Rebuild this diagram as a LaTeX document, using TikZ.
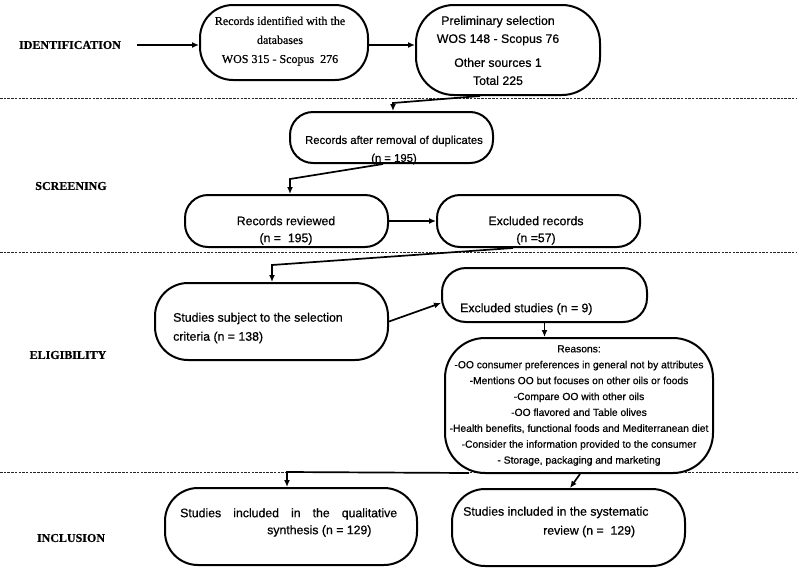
\documentclass[tikz,border=0pt]{standalone}
\usepackage{fontspec}
\setmainfont{Liberation Serif}[FakeBold=0.6]
\setsansfont{Liberation Sans}[FakeBold=0.6]
\usetikzlibrary{arrows.meta}
\begin{document}
\begin{tikzpicture}[x=1pt,y=-1pt,
  box/.style={draw, line width=2pt, fill=white, inner sep=0pt},
  txt/.style={font=\sffamily\fontsize{12.3}{18}\selectfont, inner sep=0pt, align=center},
  lab/.style={font=\rmfamily\bfseries\fontsize{12}{14}\selectfont, inner sep=0pt},
  arr/.style={line width=1.7pt, -{Latex[length=7pt,width=6pt]}},
  sep/.style={dash pattern=on 2.5pt off 1.2pt, line width=0.9pt, black!85}]
\useasboundingbox (0,0) rectangle (800,568);

% separators
\draw[sep] (0,98) -- (796,98);
\draw[sep] (0,252) -- (796,252);
\draw[sep] (0,472) -- (798,472);

% stage labels
\node[lab] (l1) at (70,45) {IDENTIFICATION};
\node[lab] (l2) at (71,186) {SCREENING};
\node[lab] (l3) at (68,355) {ELIGIBILITY};
\node[lab] (l4) at (71,538) {INCLUSION};

% boxes
\node[box, rounded corners=33, minimum width=168, minimum height=75] (b1) at (284,42.5) {};
\node[box, rounded corners=38, minimum width=184, minimum height=90] (b2) at (508,50) {};
\node[box, rounded corners=23, minimum width=203, minimum height=51] (b3) at (391.5,137.5) {};
\node[box, rounded corners=23, minimum width=203, minimum height=52] (b4) at (286.5,221) {};
\node[box, rounded corners=23, minimum width=203, minimum height=52] (b5) at (538.5,221) {};
\node[box, rounded corners=33, minimum width=233, minimum height=77] (b6) at (271.5,321.5) {};
\node[box, rounded corners=24, minimum width=205, minimum height=54] (b7) at (544.5,295) {};
\node[box, rounded corners=40, minimum width=268, minimum height=135] (b8) at (579,405.5) {};
\node[box, rounded corners=33, minimum width=252, minimum height=77] (b9) at (291,526.5) {};
\node[box, rounded corners=33, minimum width=233, minimum height=77] (b10) at (568.5,527.5) {};

% texts
\node[font=\rmfamily\fontsize{12}{19}\selectfont, inner sep=0pt, align=center] (t1) at (280,41)
  {Records identified with the\\databases\\WOS 315 - Scopus\ \ 276};
\node[txt] (t2) at (498,50.5)
  {Preliminary selection\\WOS 148 - Scopus 76\\[6pt]Other sources 1\\Total 225};
\node[txt, font=\sffamily\fontsize{11.3}{18}\selectfont] (t3) at (394,150)
  {Records after removal of duplicates\\(n = 195)};
\node[txt, font=\sffamily\fontsize{12.3}{17}\selectfont] (t4) at (286,230.5)
  {Records reviewed\\(n =\ \ 195)};
\node[txt, font=\sffamily\fontsize{12.3}{17}\selectfont] (t5) at (536,230.5)
  {Excluded records\\(n =57)};
\node[txt, font=\sffamily\fontsize{12.3}{19}\selectfont, align=left, anchor=west] (t6) at (173,328)
  {Studies subject to the selection\\criteria (n = 138)};
\node[txt, anchor=west] (t7) at (460,309) {Excluded studies (n = 9)};
\node[txt, font=\sffamily\fontsize{10.3}{15.9}\selectfont] (t8) at (579,405.5)
  {Reasons:\\-OO consumer preferences in general not by attributes\\
   -Mentions OO but focuses on other oils or foods\\-Compare OO with other oils\\
   -OO flavored and Table olives\\-Health benefits, functional foods and Mediterranean diet\\
   -Consider the information provided to the consumer\\- Storage, packaging and marketing};
\node[txt, font=\sffamily\fontsize{12.3}{17}\selectfont, align=left, anchor=west] (t9) at (180,522.5)
  {\hbox to 217pt{Studies\hfill included\hfill in\hfill the\hfill qualitative}\\\hspace*{87pt}synthesis (n = 129)};
\node[txt, font=\sffamily\fontsize{12.3}{19}\selectfont, align=left, anchor=west] (t10) at (463,522)
  {Studies included in the systematic\\\hspace*{80pt}review (n =\ \ 129)};

% connectors
\draw[arr] ([xshift=16]l1.east) -- (l1.east -| b1.west);
\draw[arr] ([yshift=-2.5]b1.east) -- ([yshift=-2.5]b1.east -| b2.west);
\coordinate (k1) at (393,103);
\draw[arr] ([xshift=-28]b2.south) -- (k1) -- (k1 |- b3.north);
\coordinate (k2) at (290,179);
\draw[arr] ([xshift=-8.5]b3.south) -- (k2) -- (k2 |- b4.north);
\draw[arr] (b4.east) -- (b5.west);
\coordinate (k3) at (272,265);
\draw[arr] ([xshift=-25.5]b5.south) -- (k3) -- (k3 |- b6.north);
\draw[arr] (b6.east) -- ([yshift=-8]b7.west);
\draw[arr] (b7.south) -- (b7.south |- b8.north);
\coordinate (k4) at (287,472);
\draw[arr] ([xshift=-110,yshift=1]b8.south) -- (k4) -- (k4 |- b9.north);
\draw[arr] ([xshift=1]b8.south) -- ([xshift=1.5]b10.north);
\end{tikzpicture}
\end{document}
